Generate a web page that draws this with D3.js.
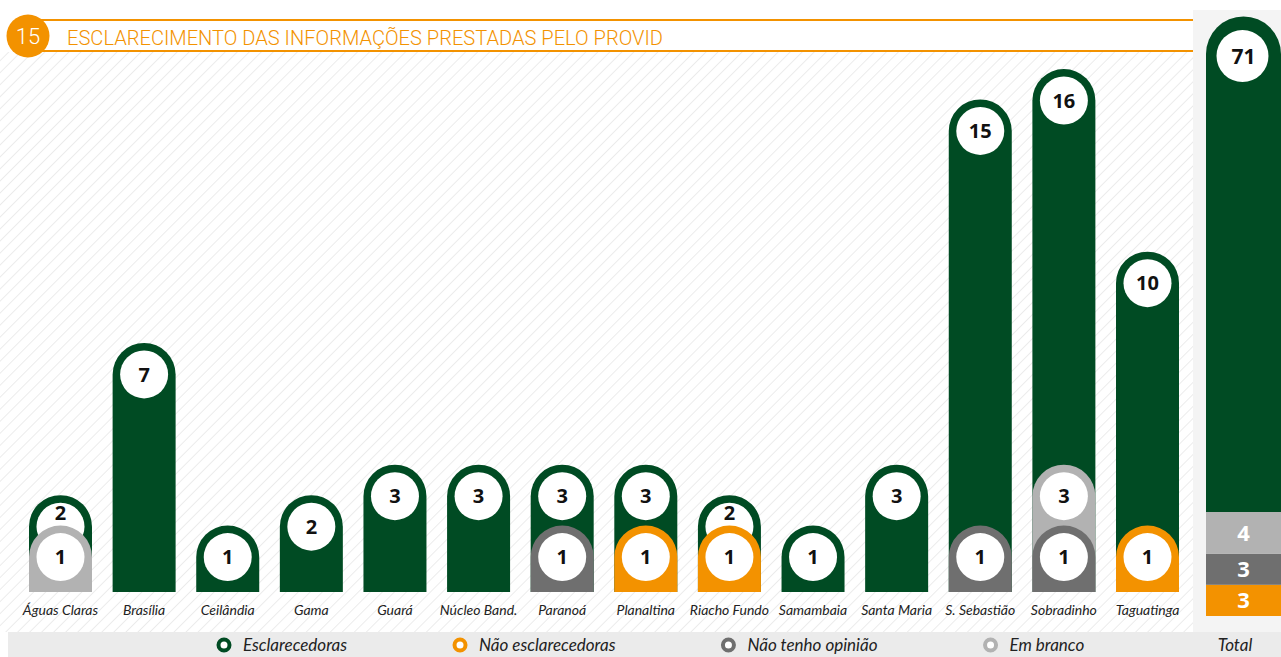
<!DOCTYPE html>
<html>
<head>
<meta charset="utf-8">
<script src="https://cdn.jsdelivr.net/npm/d3@7"></script>
<style>
	html, body { margin: 0; padding: 0; background: #fff; }
	svg { display: block; }
</style>
</head>
<body>
<div id="chart"></div>
<script>
// data
const categories = ["Águas Claras", "Brasília", "Ceilândia", "Gama", "Guará", "Núcleo Band.", "Paranoá",
	"Planaltina", "Riacho Fundo", "Samambaia", "Santa Maria", "S. Sebastião", "Sobradinho", "Taguatinga"];
const esclarecedoras    = [2, 7, 1, 2, 3, 3, 3, 3, 2, 1, 3, 15, 16, 10];
const naoEsclarecedoras = [0, 0, 0, 0, 0, 0, 0, 1, 1, 0, 0, 0, 0, 1];
const naoOpiniao        = [0, 0, 0, 0, 0, 0, 1, 0, 0, 0, 0, 1, 1, 0];
const emBranco          = [1, 0, 0, 0, 0, 0, 0, 0, 0, 0, 0, 0, 3, 0];
const totals = { naoEsc: 3, naoOp: 3, branco: 4, escl: 71 };

const title = "ESCLARECIMENTO DAS INFORMAÇÕES PRESTADAS PELO PROVID";
const chartNumber = "15";

const series = [
	{ key: "escl", name: "Esclarecedoras", color: "#004b23", values: esclarecedoras },
	{ key: "naoEsc", name: "Não esclarecedoras", color: "#f39200", values: naoEsclarecedoras },
	{ key: "naoOp", name: "Não tenho opinião", color: "#6f6f6f", values: naoOpiniao },
	{ key: "branco", name: "Em branco", color: "#b2b2b2", values: emBranco }
];
const colorOf = {};
series.forEach((s) => (colorOf[s.key] = s.color));

const width = 1281,
	height = 657,
	baseY = 592,
	barW = 63,
	r = barW / 2,
	labelR = 24,
	orange = "#f39200";

const svg = d3.select("#chart").append("svg").attr("width", width).attr("height", height);

// hatch pattern
const defs = svg.append("defs");
defs.append("pattern")
	.attr("id", "hatch")
	.attr("patternUnits", "userSpaceOnUse")
	.attr("width", 8.5)
	.attr("height", 8.5)
	.attr("patternTransform", "rotate(45)")
	.append("line")
	.attr("x1", 0).attr("y1", 0).attr("x2", 0).attr("y2", 8.5)
	.attr("stroke", "#e8e8e8")
	.attr("stroke-width", 1.6);

svg.append("rect").attr("x", 0).attr("y", 52).attr("width", 1193).attr("height", 580).attr("fill", "url(#hatch)");

// total panel + legend strip
svg.append("rect").attr("x", 1193).attr("y", 10).attr("width", width - 1193).attr("height", 622).attr("fill", "#f4f4f4");
svg.append("rect").attr("x", 8).attr("y", 632).attr("width", width - 8).attr("height", height - 632).attr("fill", "#ebebeb");

// title
svg.append("line").attr("x1", 36).attr("x2", 1193).attr("y1", 20).attr("y2", 20).attr("stroke", orange).attr("stroke-width", 2);
svg.append("line").attr("x1", 36).attr("x2", 1193).attr("y1", 51).attr("y2", 51).attr("stroke", orange).attr("stroke-width", 2);
svg.append("circle").attr("cx", 28).attr("cy", 36).attr("r", 21.5).attr("fill", orange);
svg.append("text")
	.attr("x", 28).attr("y", 36).attr("dy", "0.36em")
	.attr("text-anchor", "middle")
	.attr("fill", "#fff")
	.style("font", "300 22px Roboto")
	.text(chartNumber);
svg.append("text")
	.attr("x", 67).attr("y", 45)
	.attr("fill", orange)
	.attr("textLength", 596)
	.attr("lengthAdjust", "spacingAndGlyphs")
	.style("font", "300 21px Roboto")
	.text(title);

// scales
const x = d3.scalePoint().domain(categories).range([60.5, 1147.5]);
const y = d3.scaleLinear().domain([0, 16]).range([587.5, 100.5]);

function capPath(cx, cy, rad, bottom) {
	return `M${cx - rad},${bottom}L${cx - rad},${cy}A${rad},${rad} 0 0 1 ${cx + rad},${cy}L${cx + rad},${bottom}Z`;
}

// bars: each series drawn from the baseline, larger values behind
const groups = svg.selectAll(".cat")
	.data(categories.map((c, i) => {
		const layers = series.map((s) => ({ key: s.key, color: s.color, value: s.values[i], cat: c }))
			.filter((d) => d.value > 0)
			.sort((a, b) => b.value - a.value);
		// a label that is almost covered by the next layer moves up into the ring
		layers.forEach((l, j) => {
			const front = layers[j + 1];
			l.shift = front && l.value - front.value <= 1 ? -14 : 0;
		});
		return { cat: c, layers };
	}))
	.join("g")
	.attr("class", "cat");

const layer = groups.selectAll(".layer")
	.data((d) => d.layers)
	.join("g")
	.attr("class", "layer");

layer.append("path")
	.attr("d", (d) => capPath(x(d.cat), y(d.value), r, baseY))
	.attr("fill", (d) => d.color);
layer.append("circle")
	.attr("cx", (d) => x(d.cat))
	.attr("cy", (d) => y(d.value))
	.attr("r", labelR)
	.attr("fill", "#fff");
layer.append("text")
	.attr("x", (d) => x(d.cat))
	.attr("y", (d) => y(d.value) + d.shift)
	.attr("dy", "0.36em")
	.attr("text-anchor", "middle")
	.attr("fill", "#111")
	.style("font", "700 20px 'Open Sans'")
	.text((d) => d.value);

// category labels
svg.selectAll(".catlabel")
	.data(categories)
	.join("text")
	.attr("class", "catlabel")
	.attr("x", (d) => x(d))
	.attr("y", 615)
	.attr("text-anchor", "middle")
	.attr("fill", "#222")
	.style("font", "italic 14px Lato")
	.text((d) => d);

// total bar
const totalX = 1243.5,
	totalW = 75;
const yT = d3.scaleLinear().domain([0, 10, 81]).range([616, 512, 54]);
const stackKeys = ["naoEsc", "naoOp", "branco", "escl"];
const stacked = d3.stack().keys(stackKeys)([totals]);

const tot = svg.append("g").attr("class", "total");
stacked.forEach((s) => {
	const d = s[0];
	if (s.key === "escl") {
		tot.append("path")
			.attr("d", capPath(totalX, yT(d[1]), totalW / 2, yT(d[0])))
			.attr("fill", colorOf[s.key]);
		tot.append("circle").attr("cx", totalX - 1).attr("cy", yT(d[1]) + 2).attr("r", 26).attr("fill", "#fff");
		tot.append("text")
			.attr("x", totalX).attr("y", yT(d[1]) + 2).attr("dy", "0.36em")
			.attr("text-anchor", "middle")
			.attr("fill", "#111")
			.style("font", "700 21px 'Open Sans'")
			.text(d[1] - d[0]);
	} else {
		tot.append("rect")
			.attr("x", totalX - totalW / 2)
			.attr("y", yT(d[1]))
			.attr("width", totalW)
			.attr("height", yT(d[0]) - yT(d[1]))
			.attr("fill", colorOf[s.key]);
		tot.append("text")
			.attr("x", totalX).attr("y", (yT(d[0]) + yT(d[1])) / 2).attr("dy", "0.36em")
			.attr("text-anchor", "middle")
			.attr("fill", "#fff")
			.style("font", "700 22px 'Open Sans'")
			.text(d[1] - d[0]);
	}
});

// legend
const legend = svg.append("g").attr("class", "legend");
let lx = 224;
series.forEach((s) => {
	legend.append("circle").attr("cx", lx).attr("cy", 645).attr("r", 5.5)
		.attr("fill", "#fff").attr("stroke", s.color).attr("stroke-width", 4);
	const t = legend.append("text")
		.attr("x", lx + 19).attr("y", 650.5)
		.attr("fill", "#222")
		.style("font", "italic 17px Lato")
		.text(s.name);
	lx = lx + 19 + t.node().getComputedTextLength() + 113;
});
legend.append("text")
	.attr("x", 1235).attr("y", 650.5)
	.attr("text-anchor", "middle")
	.attr("fill", "#222")
	.style("font", "italic 17px Lato")
	.text("Total");
</script>
</body>
</html>
